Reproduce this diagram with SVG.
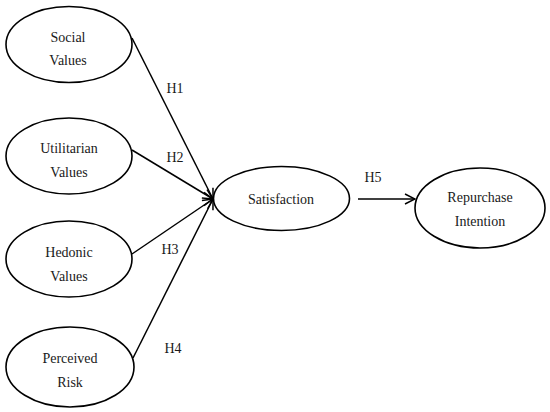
<svg xmlns="http://www.w3.org/2000/svg" width="550" height="412" viewBox="0 0 550 412">
<style>
.n ellipse{fill:#fff;stroke:#000;stroke-width:1.6}
text{font-family:'Liberation Serif',serif;font-size:14px;fill:#1a1a1a;text-anchor:middle}
.c line{stroke:#000;stroke-width:1.5;marker-end:url(#ah)}
</style>
<defs>
<marker id="ah" viewBox="0 0 12 12" refX="11" refY="6" markerWidth="12" markerHeight="12" markerUnits="userSpaceOnUse" orient="auto">
<path d="M1,1 L11,6 L1,11" fill="none" stroke="#000" stroke-width="1.5"/>
</marker>
</defs>
<rect width="550" height="412" fill="#fff"/>
<g class="c" id="connectors">
<line x1="132" y1="38" x2="213" y2="199"/>
<line x1="132" y1="150" x2="213" y2="199"/>
<line x1="132" y1="254" x2="213" y2="199"/>
<line x1="133" y1="358" x2="213" y2="199"/>
<line x1="358" y1="199" x2="415" y2="199"/>
<text x="175" y="93">H1</text>
<text x="175" y="162">H2</text>
<text x="170" y="254">H3</text>
<text x="173" y="353">H4</text>
<text x="373" y="182">H5</text>
</g>
<g class="n" id="social"><ellipse cx="69" cy="44.5" rx="63" ry="38"/><text x="68" y="42">Social</text><text x="68" y="65">Values</text></g>
<g class="n" id="utilitarian"><ellipse cx="69" cy="156" rx="63" ry="38"/><text x="69" y="153">Utilitarian</text><text x="69" y="177">Values</text></g>
<g class="n" id="hedonic"><ellipse cx="69" cy="259" rx="63" ry="38"/><text x="69" y="257">Hedonic</text><text x="69" y="281">Values</text></g>
<g class="n" id="risk"><ellipse cx="70" cy="367" rx="64" ry="40"/><text x="70" y="363">Perceived</text><text x="70" y="387">Risk</text></g>
<g class="n" id="satisfaction"><ellipse cx="281.5" cy="198.5" rx="68" ry="32"/><text x="281" y="204">Satisfaction</text></g>
<g class="n" id="repurchase"><ellipse cx="480" cy="208" rx="65" ry="40"/><text x="480" y="202">Repurchase</text><text x="480" y="226">Intention</text></g>
</svg>
